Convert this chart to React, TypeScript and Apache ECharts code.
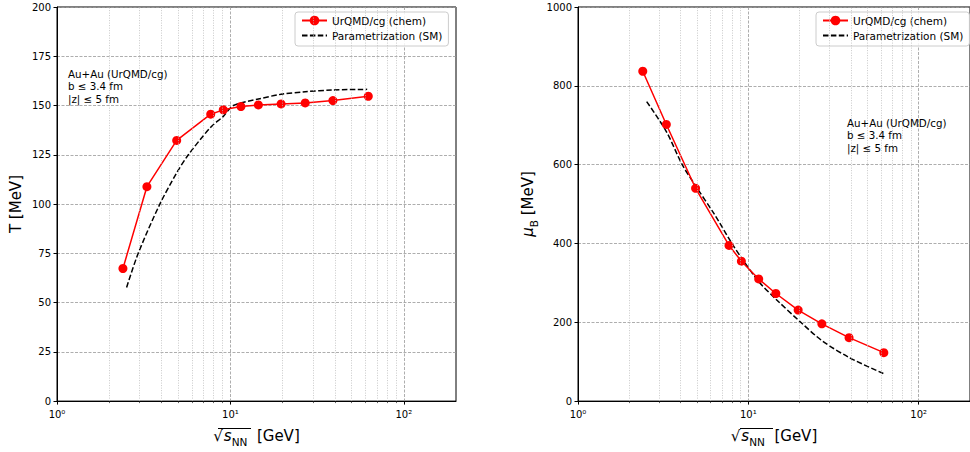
import React, { useEffect, useRef } from "react";
import * as echarts from "echarts";

// ---- data ----
const sqrtS = [2.4, 3.3, 4.9, 7.7, 9.1, 11.5, 14.5, 19.6, 27, 39, 62.4];
const tChem = [67.3, 108.8, 132.3, 145.6, 147.8, 149.5, 150.3, 150.8, 151.3, 152.5, 154.7];
const muChem = [837, 702, 540, 395, 355, 310, 273, 231, 196, 161, 123];

const paramTX = [2.52, 2.94, 3.92, 4.9, 5.72, 7.7, 9.1, 10.4, 14.5, 19.6, 27, 39, 61.5];
const paramT = [57.7, 75, 100, 115.8, 125, 139, 144.5, 150, 153.3, 155.7, 157, 157.9, 158.2];

const paramMuX = [2.53, 3.3, 4.09, 4.92, 6.3, 8.01, 9.15, 11.57, 14.57, 20.3, 27.1, 39.3, 62];
const paramMu = [760, 684, 600, 545, 475, 400, 362, 302, 258, 200, 153, 110, 70];

const xMajorTicks = [1, 10, 100];
const xMinorTicks = [2, 3, 4, 5, 6, 7, 8, 9, 20, 30, 40, 50, 60, 70, 80, 90];
const xTickLabels = ["10\u2070", "10\u00b9", "10\u00b2"];

const tAxis = { min: 0, max: 200, interval: 25 };
const muAxis = { min: 0, max: 1000, interval: 200 };
const xRange = { min: 1, max: 200 };

const chemName = "UrQMD/cg (chem)";
const paramName = "Parametrization (SM)";
const annotation = ["Au+Au (UrQMD/cg)", "b \u2264 3.4 fm", "|z| \u2264 5 fm"];

const FONT = "DejaVu Sans";

const zip = (xs: number[], ys: number[]) => xs.map((x, i) => [x, ys[i]]);

export default function App() {
  const ref = useRef<HTMLDivElement>(null);
  useEffect(() => {
    if (!ref.current) return;
    const chart = echarts.init(ref.current, undefined, { renderer: "svg" });

    const gridW = 399;
    const gridH = 396;
    const grids = [
      { left: 57, top: 7, width: gridW, height: gridH },
      { left: 578, top: 7, width: gridW, height: gridH },
    ].map((g) => ({ ...g, show: true, borderColor: "#000", borderWidth: 1, backgroundColor: "#fff" }));

    const xLabelFmt = (v: number) => {
      const idx = xMajorTicks.findIndex((m) => Math.abs(m - v) / m < 1e-6);
      return idx >= 0 ? xTickLabels[idx] : "";
    };

    const xNameRich = {
      sq: { fontSize: 15, fontFamily: FONT, color: "#000", padding: [0, 1, 0, 0] },
      s: { fontSize: 15, fontFamily: FONT, fontStyle: "italic", color: "#000" },
      sub: { fontSize: 10.5, fontFamily: FONT, color: "#000", verticalAlign: "bottom", lineHeight: 23 },
      t: { fontSize: 15, fontFamily: FONT, color: "#000" },
    };

    const mainX = (gridIndex: number) => ({
      type: "log",
      logBase: 10,
      gridIndex,
      min: xRange.min,
      max: xRange.max,
      position: "bottom",
      name: "{sq|\u221a}{s|s}{sub|NN}{t|  [GeV]}",
      nameLocation: "middle",
      nameGap: 21,
      nameTextStyle: { rich: xNameRich, lineHeight: 23 },
      axisLine: { show: true, lineStyle: { color: "#000", width: 1 } },
      axisTick: { show: true, length: 3.5, inside: false, customValues: xMajorTicks, lineStyle: { color: "#000", width: 1 } },
      axisLabel: {
        show: true,
        customValues: xMajorTicks,
        formatter: xLabelFmt,
        fontSize: 10,
        fontFamily: FONT,
        color: "#000",
        margin: 8,
      },
      splitLine: { show: true, lineStyle: { color: "#999", width: 0.8, type: [3, 1.5] } },
    });

    const minorX = (gridIndex: number) => ({
      type: "log",
      logBase: 10,
      gridIndex,
      min: xRange.min,
      max: xRange.max,
      position: "bottom",
      axisLine: { show: false },
      axisTick: { show: true, length: 2, customValues: xMinorTicks, lineStyle: { color: "#000", width: 0.6 } },
      axisLabel: { show: false },
      splitLine: { show: false },
    });

    const yAx = (gridIndex: number, rng: { min: number; max: number; interval: number }, name: string, nameGap: number, rich?: any) => ({
      type: "value",
      gridIndex,
      min: rng.min,
      max: rng.max,
      interval: rng.interval,
      name,
      nameLocation: "middle",
      nameGap,
      nameTextStyle: { fontSize: 15, fontFamily: FONT, color: "#000", rich },
      axisLine: { show: true, lineStyle: { color: "#000", width: 1 } },
      axisTick: { show: true, length: 3.5, lineStyle: { color: "#000", width: 1 } },
      axisLabel: { fontSize: 10, fontFamily: FONT, color: "#000", margin: 6, formatter: (v: number) => String(v) },
      splitLine: { show: true, lineStyle: { color: "#999", width: 0.8, type: [3, 1.5] } },
    });

    const muRich = {
      mu: { fontSize: 15, fontFamily: FONT, fontStyle: "italic", color: "#000" },
      sub: { fontSize: 10.5, fontFamily: FONT, color: "#000", verticalAlign: "bottom", lineHeight: 23 },
      t: { fontSize: 15, fontFamily: FONT, color: "#000" },
    };

    const minorGridSeries = (xi: number, yi: number) => ({
      type: "line",
      xAxisIndex: xi,
      yAxisIndex: yi,
      data: [],
      silent: true,
      z: 1,
      markLine: {
        silent: true,
        symbol: "none",
        label: { show: false },
        lineStyle: { color: "#bbb", width: 0.8, type: [1, 1.5] },
        data: xMinorTicks.map((v) => ({ xAxis: v })),
      },
    });

    const chemSeries = (xi: number, yi: number, ys: number[]) => ({
      name: chemName,
      type: "line",
      xAxisIndex: xi,
      yAxisIndex: yi,
      data: zip(sqrtS, ys),
      symbol: "circle",
      symbolSize: 9,
      itemStyle: { color: "#ff0000" },
      lineStyle: { color: "#ff0000", width: 1.5 },
      z: 4,
    });

    const paramSeries = (xi: number, yi: number, xs: number[], ys: number[]) => ({
      name: paramName,
      type: "line",
      xAxisIndex: xi,
      yAxisIndex: yi,
      data: zip(xs, ys),
      symbol: "none",
      smooth: 0.3,
      itemStyle: { color: "#000" },
      lineStyle: { color: "#000", width: 1.5, type: [5.5, 2.4] },
      z: 3,
    });

    const legendBase = {
      orient: "vertical",
      top: 12,
      data: [{ name: chemName }, { name: paramName, itemStyle: { opacity: 0 } }],
      itemWidth: 25,
      itemHeight: 12,
      itemGap: 4,
      padding: [3, 6, 5, 6],
      borderColor: "#ccc",
      borderWidth: 1,
      borderRadius: 3,
      backgroundColor: "rgba(255,255,255,0.85)",
      selectedMode: false,
      textStyle: { fontSize: 10.5, fontFamily: FONT, color: "#000" },
    };

    const annot = (x: number, y: number) => ({
      type: "text",
      x,
      y,
      z: 10,
      style: {
        text: annotation.join("\n"),
        fontSize: 10.3,
        lineHeight: 12.3,
        fontFamily: FONT,
        fill: "#000",
        verticalAlign: "top",
        align: "left",
      },
    });

    const overline = (x1: number, x2: number, y: number) => ({
      type: "line",
      z: 10,
      shape: { x1, y1: y, x2, y2: y },
      style: { stroke: "#000", lineWidth: 1 },
    });

    chart.setOption({
      animation: false,
      backgroundColor: "#fff",
      grid: grids,
      xAxis: [mainX(0), mainX(1), minorX(0), minorX(1)],
      yAxis: [
        yAx(0, tAxis, "T [MeV]", 34),
        yAx(1, muAxis, "{mu|\u03bc}{sub|B}{t| [MeV]}", 39, muRich),
      ],
      legend: [
        { ...legendBase, left: 295 },
        { ...legendBase, left: 816 },
      ],
      series: [
        minorGridSeries(0, 0),
        minorGridSeries(1, 1),
        chemSeries(0, 0, tChem),
        paramSeries(0, 0, paramTX, paramT),
        chemSeries(1, 1, muChem),
        paramSeries(1, 1, paramMuX, paramMu),
      ],
      graphic: [annot(68, 68), annot(847, 117), overline(218, 251, 428.5), overline(740, 773, 428.5)],
    });

    return () => chart.dispose();
  }, []);

  return (
    <div
      ref={ref}
      style={{ position: "absolute", left: 0, top: 0, width: 970, height: 452, background: "#fff" }}
    />
  );
}
